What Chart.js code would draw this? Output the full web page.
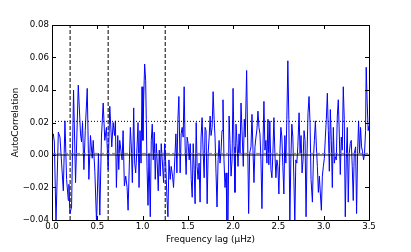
<!DOCTYPE html>
<html><head><meta charset="utf-8">
<script src="https://cdn.jsdelivr.net/npm/chart.js@4/dist/chart.umd.min.js"></script>
<style>html,body{margin:0;padding:0;background:#fff;}canvas{display:block;}</style>
</head><body>
<canvas id="c" width="411" height="252" style="width:411px;height:252px"></canvas>
<script>
// Frequency lag (µHz)
const lags = [
0,0.005,0.015,0.026,0.044,0.07,0.088,0.106,0.125,0.143,0.161,0.18,0.187,0.198,0.216,0.238,0.26,0.29,0.315,0.326,0.337,0.352,0.367,0.389,0.407,0.425,0.444,0.455,0.473,0.492,0.513,0.528,0.546,0.565,0.583,0.601,0.62,0.638,0.66,0.675,0.69,
0.700,0.711,0.726,0.737,0.748,0.763,0.774,0.785,0.799,0.814,0.829,0.840,0.855,0.865,0.876,0.887,0.902,0.913,0.924,0.939,0.950,0.961,0.972,0.983,0.994,1.004,1.012,1.023,1.034,1.041,1.049,1.060,1.071,1.085,1.096,1.107,1.118,1.129,1.140,1.151,1.162,1.173,1.184,1.195,1.206,1.217,1.232,1.243,1.254,1.269,1.280,1.291,1.305,1.316,1.331,1.342,1.357,1.368,1.379,1.390,1.401,
1.415,1.426,1.437,1.448,1.459,1.470,1.481,1.492,1.503,1.515,1.526,1.537,1.548,1.559,1.570,1.580,1.592,1.602,1.613,1.624,1.635,1.646,1.657,1.668,1.680,1.690,1.701,1.713,1.724,1.735,1.746,1.756,1.768,1.779,1.790,1.800,1.811,1.822,1.834,1.845,1.855,1.866,1.877,1.888,1.899,1.910,1.922,1.932,1.944,1.955,1.966,1.977,1.988,1.999,2.010,2.020,2.032,2.043,2.054,2.065,2.076,2.087,2.098,
2.112,2.123,2.134,2.149,2.160,2.171,2.182,2.197,2.208,2.219,2.230,2.241,2.252,2.263,2.274,2.285,2.296,2.307,2.318,2.329,2.340,2.351,2.362,2.373,2.384,2.394,2.405,2.417,2.428,2.439,2.450,2.461,2.472,2.483,2.494,2.505,2.516,2.527,2.538,2.549,2.560,2.571,2.582,2.593,2.604,2.615,2.626,2.637,2.648,2.659,2.670,2.681,2.692,2.703,2.714,2.728,2.739,2.750,2.761,2.772,2.783,2.794,
2.805,2.816,2.827,2.838,2.849,2.860,2.875,2.886,2.897,2.908,2.919,2.930,2.941,2.952,2.963,2.974,2.985,2.996,3.007,3.018,3.029,3.040,3.051,3.062,3.073,3.084,3.095,3.106,3.117,3.128,3.139,3.150,3.161,3.172,3.183,3.194,3.205,3.216,3.227,3.238,3.249,3.260,3.271,3.282,3.293,3.304,3.315,3.326,3.337,3.352,3.363,3.374,3.385,3.396,3.407,3.418,3.429,3.440,3.451,3.462,3.469,3.480,3.491,3.5];
// AutoCorrelation values
const autocorr = [
1.0,0.012,0.013,0.008,-0.042,0.014,0.011,-0.005,-0.022,0.021,-0.015,-0.028,-0.018,-0.036,-0.032,0.04,-0.017,0.043,0.013,0.008,0.02,-0.009,0.015,0.041,-0.015,0.012,-0.002,0.009,-0.01,-0.042,0.001,-0.037,0.011,0.032,0.009,0.017,-0.009,0.03,0.005,0.02,0.012,
0.021,-0.02,0.012,-0.009,0.009,0.002,-0.003,0.015,-0.019,-0.013,-0.02,-0.034,-0.003,0.017,0.005,-0.017,0.029,-0.005,-0.011,0.005,0.02,-0.02,0.015,-0.005,0.042,0.009,0.034,0.056,0.046,0.022,-0.007,-0.031,0.001,-0.038,0.009,0.019,-0.003,0.014,-0.015,0.007,-0.005,-0.022,0.003,-0.013,0.007,-0.003,-0.017,0.007,-0.003,-0.026,-0.038,-0.003,-0.015,-0.007,-0.013,-0.02,-0.001,0.013,-0.011,0.022,0.036,
-0.011,0.013,0.017,0.011,0.042,0.005,-0.012,0.011,0.007,-0.003,0.007,-0.015,-0.026,0.007,-0.009,-0.03,0.02,-0.007,-0.015,-0.005,-0.029,0.011,0.023,0.003,-0.014,0.017,0.015,-0.03,0.001,0.011,0.024,0.012,0.017,0.039,0.022,0.011,-0.011,-0.032,-0.003,0.009,-0.005,0.002,0.015,0.034,-0.003,-0.02,-0.011,-0.042,-0.041,0.024,0.007,-0.013,-0.003,0.041,0.005,-0.023,0.019,0.007,-0.007,0.013,0.001,0.032,0.015,
-0.007,0.022,0.011,0.052,0.011,-0.036,0.001,0.005,0.025,0.003,-0.017,0.005,0.011,0.016,0.027,0.017,0.013,-0.003,-0.033,0.005,0.033,0.003,0.009,-0.005,0.022,-0.006,0.021,-0.009,-0.014,0.001,0.023,0.001,-0.014,-0.003,-0.007,-0.024,0.001,0.017,0.011,-0.007,-0.024,0.012,-0.005,0.022,0.058,0.022,-0.042,-0.003,0.019,0.011,-0.013,-0.042,-0.003,-0.005,0.005,0.026,0.001,0.012,-0.011,-0.003,0.015,0.009,
-0.038,0.001,0.026,0.036,0.02,-0.015,-0.029,-0.003,0.009,0.021,0.005,-0.007,-0.023,-0.013,-0.024,-0.034,-0.013,-0.007,-0.002,0.011,0.022,0.038,0.015,-0.01,0.028,0.009,-0.02,0.017,-0.005,-0.001,-0.003,0.024,0.034,0.013,-0.012,0.011,0.003,0.042,0.022,-0.038,-0.003,0.017,-0.029,0.001,0.007,0.009,-0.007,-0.028,0.001,0.005,-0.036,0.001,0.021,0.001,0.017,0.005,0.002,-0.003,0.001,0.015,0.054,0.032,0.015,0.018];
const xTicks = [0,0.5,1,1.5,2,2.5,3,3.5];
const xTickLabels = ['0.0','0.5','1.0','1.5','2.0','2.5','3.0','3.5'];
const yTicks = [-0.04,-0.02,0,0.02,0.04,0.06,0.08];
const yTickLabels = ['\u22120.04','\u22120.02','0.00','0.02','0.04','0.06','0.08'];
const markerLags = [0.2,0.62,1.25];
const zeroLevel = 0;
const meanLevel = 0.001;
const sigLevel = 0.0207;
const xRange = [0,3.5];
const yRange = [-0.04,0.08];

const hline = (v, color, dash, order) => ({
  data: [{x:xRange[0],y:v},{x:xRange[1],y:v}],
  borderColor: color, borderWidth: 1, borderDash: dash, pointRadius: 0, order: order, fill:false
});
const datasets = [];
markerLags.forEach(v => datasets.push({
  data: [{x:v,y:yRange[0]},{x:v,y:yRange[1]}],
  borderColor:'#000', borderWidth:1, borderDash:[4,2], pointRadius:0, order:5, fill:false
}));
datasets.push({
  data: lags.map((l,i)=>({x:l,y:autocorr[i]})),
  borderColor:'#0000ff', borderWidth:1, pointRadius:0, tension:0, order:3, fill:false
});
datasets.push(hline(sigLevel,'#000',[1,2],1));
datasets.push(hline(meanLevel,'#808080',[4,2],2));
datasets.push(hline(zeroLevel,'#000',[],1));

const frame = {
  id:'frame',
  afterDatasetsDraw(chart){
    const {ctx, chartArea:a, scales:{x,y}} = chart;
    ctx.save();
    ctx.strokeStyle='#000'; ctx.lineWidth=1; ctx.setLineDash([]);
    ctx.beginPath();
    xTicks.forEach(v=>{ const p=Math.round(x.getPixelForValue(v))+0.5;
      ctx.moveTo(p,a.bottom); ctx.lineTo(p,a.bottom-4);
      ctx.moveTo(p,a.top); ctx.lineTo(p,a.top+4); });
    yTicks.forEach(v=>{ const p=Math.round(y.getPixelForValue(v))+0.5;
      ctx.moveTo(a.left,p); ctx.lineTo(a.left+4,p);
      ctx.moveTo(a.right,p); ctx.lineTo(a.right-4,p); });
    ctx.stroke();
    ctx.strokeRect(a.left+0.5,a.top+0.5,a.right-a.left,a.bottom-a.top);
    ctx.restore();
  }
};

const tickFont = {family:'DejaVu Sans', size:8.6};
const titleFont = {family:'DejaVu Sans', size:8.9};
new Chart(document.getElementById('c'), {
  type:'line',
  data:{datasets},
  options:{
    responsive:false, animation:false, events:[],
    layout:{padding:{left:0,right:42,top:25,bottom:0}},
    plugins:{legend:{display:false}, tooltip:{enabled:false}},
    scales:{
      x:{type:'linear', min:xRange[0], max:xRange[1],
        afterFit(s){ s.height=32; },
        afterBuildTicks(s){ s.ticks = xTicks.map(v=>({value:v})); },
        grid:{display:false, drawTicks:false}, border:{display:false},
        ticks:{padding:1.5, color:'#000', font:tickFont, maxRotation:0, autoSkip:false,
          callback:(v)=>xTickLabels[xTicks.indexOf(v)]},
        title:{display:true, text:'Frequency lag (\u03bcHz)', color:'#000', font:titleFont, padding:{top:0,bottom:7}}
      },
      y:{type:'linear', min:yRange[0], max:yRange[1],
        afterFit(s){ s.width=52; },
        afterBuildTicks(s){ s.ticks = yTicks.map(v=>({value:v})); },
        grid:{display:false, drawTicks:false}, border:{display:false},
        ticks:{padding:3, color:'#000', font:tickFont, autoSkip:false,
          callback:(v)=>{ const i=yTicks.findIndex(t=>Math.abs(t-v)<1e-9); return yTickLabels[i]; }},
        title:{display:true, text:'AutoCorrelation', color:'#000', font:titleFont, padding:{top:10,bottom:0}}
      }
    }
  },
  plugins:[frame]
});
</script>
</body></html>
